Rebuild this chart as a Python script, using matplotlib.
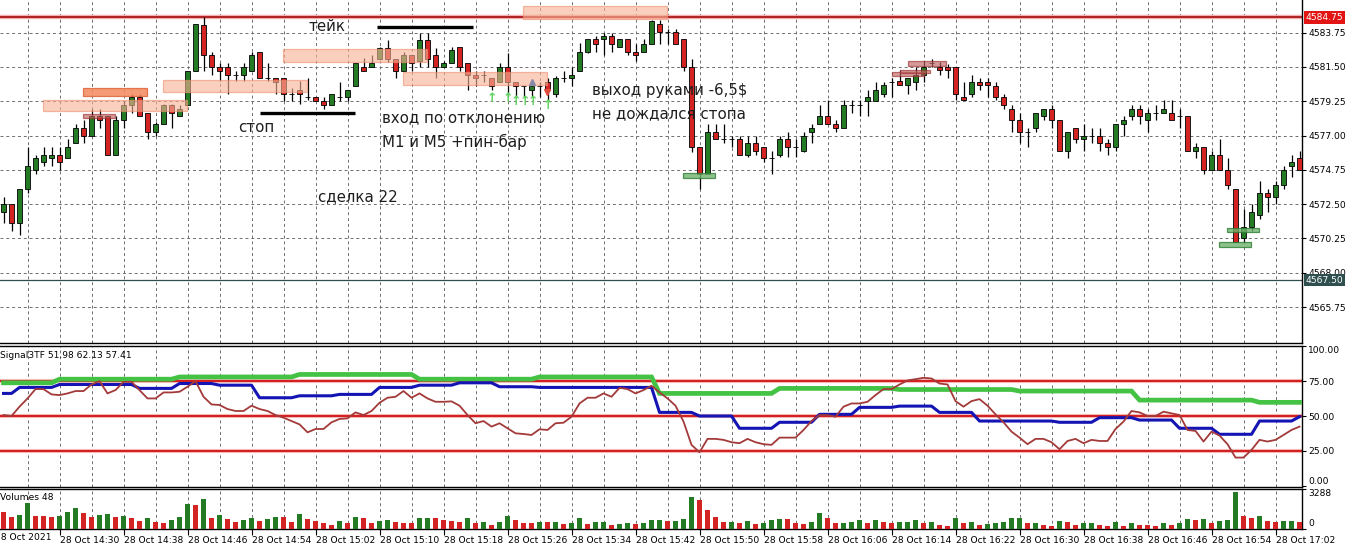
import numpy as np
import matplotlib
matplotlib.use('Agg')
import matplotlib.pyplot as plt
from matplotlib.patches import Rectangle
import matplotlib.transforms as mtrans

plt.rcParams['font.family'] = ['DejaVu Sans']

# ---------------- data (M1 candles, 28 Oct 2021, 14:23 .. 17:05) ----------------
opens = [4572.0,4572.5,4571.25,4573.5,4574.75,4575.25,4575.5,4575.75,4575.5,4576.5,
         4577.5,4577.0,4578.25,4578.25,4575.75,4578.0,4579.0,4579.5,4578.5,4577.25,
         4577.75,4579.0,4578.25,4579.0,4581.25,4584.25,4582.25,4581.5,4581.5,4581.0,
         4581.0,4581.25,4582.5,4580.75,4580.75,4580.75,4579.75,4580.0,4579.5,4579.5,
         4579.25,4579.0,4579.5,4579.5,4580.25,4581.5,4581.5,4582.0,4582.75,4582.0,
         4581.25,4582.25,4581.9,4583.25,4582.25,4581.5,4581.75,4582.8,4581.75,4581.0,
         4581.0,4580.75,4580.5,4581.5,4580.5,4580.25,4580.0,4580.25,4580.5,4579.75,
         4580.75,4580.75,4581.25,4582.5,4583.3,4583.3,4583.55,4582.8,4583.3,4582.5,
         4582.5,4583.0,4584.3,4583.8,4583.8,4583.3,4581.5,4576.25,4574.5,4577.25,
         4576.8,4576.8,4576.8,4575.75,4576.5,4576.25,4575.5,4575.75,4576.8,4576.25,
         4576.0,4577.25,4577.75,4578.3,4577.75,4577.5,4579.0,4579.0,4579.25,4579.25,
         4579.75,4580.5,4580.55,4580.3,4580.5,4581.0,4581.75,4581.5,4581.5,4581.5,
         4579.5,4579.75,4580.5,4580.5,4580.25,4579.5,4578.75,4578.0,4577.2,4577.5,
         4578.3,4578.75,4578.0,4576.0,4577.5,4576.8,4577.0,4577.0,4576.5,4576.25,
         4577.75,4578.3,4578.75,4578.0,4578.5,4578.5,4578.5,4578.3,4578.3,4576.0,
         4576.25,4574.75,4575.75,4574.75,4573.5,4570.3,4571.0,4571.8,4573.25,4573.0,
         4573.75,4575.0,4575.5]
highs = [4573.0,4572.5,4573.5,4576.25,4575.75,4576.25,4576.25,4576.25,4576.75,4577.75,
         4578.0,4578.75,4578.75,4578.25,4578.25,4579.25,4579.75,4579.75,4578.5,4577.9,
         4579.1,4579.1,4579.0,4581.25,4584.3,4584.75,4582.5,4581.75,4581.75,4581.25,
         4581.75,4582.5,4582.5,4581.75,4580.75,4580.75,4580.1,4580.6,4580.8,4579.5,
         4579.5,4579.75,4580.5,4580.0,4581.75,4582.1,4582.25,4582.8,4583.25,4582.0,
         4582.5,4582.25,4583.75,4583.75,4582.75,4581.9,4582.8,4582.8,4581.75,4581.25,
         4581.25,4580.75,4581.75,4582.4,4580.5,4580.25,4580.5,4580.5,4580.75,4580.9,
         4581.25,4581.5,4583.1,4583.3,4583.5,4583.7,4583.7,4583.3,4583.3,4583.0,
         4583.3,4584.55,4584.55,4584.0,4584.0,4583.3,4582.0,4576.25,4577.75,4577.75,
         4577.75,4577.0,4577.0,4577.0,4577.0,4576.25,4576.0,4577.0,4577.25,4576.8,
         4577.25,4577.75,4579.0,4579.3,4578.0,4579.3,4579.3,4579.3,4580.0,4580.5,
         4580.5,4580.8,4581.3,4580.8,4581.5,4581.9,4582.0,4581.8,4581.7,4581.5,
         4580.5,4581.0,4580.75,4580.8,4580.5,4579.75,4579.0,4578.5,4577.5,4578.5,
         4578.75,4579.0,4578.0,4577.2,4577.5,4577.75,4577.5,4577.5,4576.8,4577.75,
         4578.3,4579.0,4579.0,4578.75,4579.0,4579.3,4579.3,4578.75,4578.3,4576.5,
         4576.25,4576.0,4576.75,4575.5,4573.5,4572.2,4572.5,4574.0,4573.5,4574.0,
         4575.0,4575.75,4576.0]
lows = [4571.25,4570.75,4570.5,4573.25,4574.5,4575.0,4575.0,4574.75,4575.5,4576.5,
        4576.5,4577.0,4577.5,4575.75,4575.75,4577.5,4578.5,4578.25,4576.75,4577.0,
        4577.75,4577.5,4578.25,4579.0,4581.25,4581.25,4581.0,4580.6,4579.75,4580.6,
        4580.6,4581.25,4580.75,4580.6,4579.75,4579.25,4579.25,4579.1,4579.3,4579.25,
        4578.75,4579.0,4579.25,4579.25,4580.25,4581.25,4581.5,4582.0,4581.8,4580.75,
        4581.25,4581.25,4581.5,4581.5,4580.75,4581.5,4581.75,4581.25,4580.0,4580.25,
        4580.5,4580.0,4580.5,4579.5,4579.5,4579.5,4579.5,4579.5,4579.3,4579.5,
        4580.5,4580.25,4581.25,4582.4,4582.5,4582.3,4582.5,4582.8,4582.3,4581.9,
        4582.5,4583.0,4583.0,4583.0,4583.0,4581.25,4575.9,4573.5,4574.5,4576.8,
        4576.5,4576.25,4575.75,4575.6,4575.75,4575.25,4574.5,4575.6,4575.6,4575.6,
        4575.9,4576.5,4577.75,4577.75,4577.2,4577.5,4578.5,4578.3,4578.3,4579.25,
        4579.5,4579.5,4580.3,4579.75,4580.0,4580.5,4581.5,4581.0,4580.8,4579.3,
        4579.3,4579.5,4580.0,4579.5,4579.3,4578.75,4577.2,4576.5,4576.25,4577.2,
        4578.0,4577.5,4576.0,4575.5,4576.5,4576.0,4576.5,4576.0,4575.75,4576.0,
        4577.0,4578.0,4577.75,4577.2,4578.0,4578.5,4578.0,4577.5,4576.0,4575.5,
        4574.5,4574.75,4574.75,4573.5,4570.0,4570.0,4570.75,4571.5,4572.0,4572.5,
        4573.5,4574.25,4574.75]
closes = [4572.5,4571.25,4573.5,4575.0,4575.5,4575.75,4575.75,4575.25,4576.25,4577.5,
          4577.0,4578.25,4578.0,4575.75,4578.0,4579.0,4579.5,4578.25,4577.25,4577.75,
          4579.0,4578.5,4578.75,4581.25,4584.3,4582.25,4581.5,4581.25,4581.0,4581.0,
          4581.5,4582.25,4580.75,4580.75,4580.5,4579.75,4579.75,4579.75,4579.5,4579.25,
          4579.0,4579.75,4579.5,4580.0,4581.75,4581.25,4581.75,4582.75,4582.0,4581.25,
          4582.25,4581.75,4583.25,4582.0,4581.5,4581.75,4582.6,4581.5,4581.0,4580.75,
          4581.0,4580.25,4581.5,4580.5,4580.25,4580.25,4580.25,4580.25,4580.0,4580.75,
          4580.75,4581.0,4582.5,4583.3,4583.0,4583.55,4583.0,4583.3,4582.5,4582.3,
          4583.0,4584.5,4583.8,4583.8,4583.0,4581.5,4576.25,4574.5,4577.25,4576.8,
          4576.8,4576.8,4575.75,4576.5,4576.0,4575.5,4575.5,4576.8,4576.25,4576.25,
          4577.0,4577.5,4578.3,4577.75,4577.5,4579.0,4579.0,4579.0,4579.5,4580.0,
          4580.3,4580.5,4580.3,4580.8,4581.0,4581.5,4581.75,4581.3,4581.3,4579.75,
          4579.3,4580.5,4580.3,4580.3,4579.5,4579.0,4578.0,4577.2,4577.2,4578.5,
          4578.75,4578.0,4576.0,4577.2,4576.8,4577.0,4577.0,4576.5,4576.25,4577.75,
          4578.0,4578.75,4578.3,4578.5,4578.5,4578.75,4578.0,4578.3,4576.0,4576.25,
          4574.75,4575.75,4574.75,4573.75,4570.0,4571.0,4572.0,4573.25,4573.0,4573.75,
          4574.75,4575.25,4574.75]
volumes = [1405,983,1124,2108,1040,1010,983,1040,1405,1686,
           1321,983,1124,1208,983,1040,843,646,899,562,
           478,703,983,2051,1967,2473,899,1124,787,562,
           703,899,646,787,983,960,562,1208,787,646,
           478,281,646,478,983,899,478,646,703,562,
           478,460,843,899,843,680,646,562,899,478,
           520,281,562,1068,703,478,460,562,540,560,
           365,478,899,365,562,580,281,365,478,365,
           478,703,720,646,660,787,2670,2389,1546,983,
           562,580,478,618,365,478,703,787,760,478,
           365,562,1265,899,478,490,562,703,478,703,
           562,478,513,530,740,430,570,313,228,855,
           430,513,313,340,430,513,855,880,430,450,
           313,228,600,570,313,430,445,313,228,513,
           228,430,313,300,228,430,313,430,800,710,
           800,430,600,710,3080,1030,855,1030,600,513,
           600,610,513]
# Signal3TF lines
signal_line = [50.7,50.0,56.7,62.6,69.3,69.3,65.5,65.0,66.2,67.9,
               67.9,72.6,75.0,66.2,68.6,74.5,74.5,68.6,62.6,62.6,
               66.9,66.9,67.4,71.0,75.0,63.8,58.3,57.9,55.0,53.6,
               53.6,57.4,55.0,53.6,50.7,48.8,46.4,44.0,38.3,40.7,
               40.7,45.5,47.9,48.3,52.6,50.7,53.6,59.5,63.1,63.8,
               67.9,63.1,66.2,62.6,60.2,60.2,60.5,57.4,50.7,44.8,
               46.4,42.4,44.8,41.2,37.6,37.1,36.4,40.5,40.0,44.8,
               45.2,49.5,59.0,63.1,63.1,66.2,63.8,70.2,69.3,66.2,
               68.6,71.7,66.9,62.6,57.4,46.0,29.3,24.0,33.6,33.6,
               32.9,31.2,30.5,33.6,31.2,29.8,29.3,34.5,34.5,34.5,
               40.0,46.4,50.7,50.7,49.5,56.7,59.0,59.0,60.2,65.0,
               69.3,69.3,72.6,75.5,76.4,77.4,76.9,73.3,72.6,60.7,
               56.7,60.7,62.1,57.4,51.2,45.5,38.8,34.5,29.8,33.6,
               33.6,31.2,26.2,32.1,33.6,30.5,32.9,32.1,32.1,40.7,
               46.0,53.6,52.6,50.0,50.0,53.1,51.9,50.7,40.0,39.3,
               31.7,38.8,36.0,29.8,20.2,20.2,25.7,32.9,31.7,32.9,
               36.4,40.0,42.4]
blue_values = [66.2,70.5,72.6,69.8,73.3,72.1,63.1,64.5,65.5,70.5,72.1,73.8,71.0,70.5,
               52.6,50.0,41.2,45.5,51.2,56.2,57.1,52.6,46.4,45.5,48.8,47.1,41.2,36.9,46.4,49.5]
blue_counts = [2,5,10,5,5,5,5,5,5,5,5,5,5,15,5,5,5,5,5,5,5,5,10,5,5,5,5,5,5,1]
green_values = [73.8,76.4,78.0,79.8,76.4,78.0,66.2,69.8,69.0,67.9,61.4,59.8]
green_counts = [7,15,15,15,15,15,15,15,15,15,15,6]

time_labels = ['28 Oct 14:30','28 Oct 14:38','28 Oct 14:46','28 Oct 14:54','28 Oct 15:02',
               '28 Oct 15:10','28 Oct 15:18','28 Oct 15:26','28 Oct 15:34','28 Oct 15:42',
               '28 Oct 15:50','28 Oct 15:58','28 Oct 16:06','28 Oct 16:14','28 Oct 16:22',
               '28 Oct 16:30','28 Oct 16:38','28 Oct 16:46','28 Oct 16:54','28 Oct 17:02']
price_ticks = [4565.75,4568.00,4570.25,4572.50,4574.75,4577.00,4579.25,4581.50,4583.75]

# annotation boxes: (bar_start, bar_end, price_low, price_high)
salmon_boxes = [(4.9,22.9,4578.59,4579.31),(19.9,37.9,4579.84,4580.63),
                (34.9,52.9,4581.81,4582.66),(49.9,67.9,4580.30,4581.15),
                (64.9,82.9,4584.64,4585.49)]
orange_boxes = [(9.9,17.9,4579.57,4580.10)]
darkred_boxes = [(9.9,13.9,4578.13,4578.39),(111.0,115.0,4580.89,4581.17),
                 (112.0,115.8,4581.07,4581.33),(113.0,117.8,4581.57,4581.87)]
green_boxes = [(84.9,88.9,4574.24,4574.51),(152.9,156.9,4570.68,4570.95),
               (151.9,155.9,4569.70,4570.03)]
take_line = (46.7, 58.7, 4584.1)
stop_line = (32.1, 43.9, 4578.5)
arrow_pts = [(61.0,4579.45),(63.1,4579.45),(64.1,4579.25),(65.2,4579.25),(66.2,4579.25),(68.0,4578.95)]
level_red = 4584.75
level_dark = 4567.50
notes = [(38.1,4584.18,'тейк'),(29.3,4577.53,'стоп'),(47.3,4578.19,'вход по отклонению'),
         (47.3,4576.55,'M1 и M5 +пин-бар'),(39.3,4572.99,'сделка 22'),
         (73.6,4579.97,'выход руками -6,5$'),(73.6,4578.45,'не дождался стопа')]

# ---------------- figure ----------------
W, H = 1359, 558
fig = plt.figure(figsize=(W/100, H/100), dpi=100)
fig.patch.set_facecolor('white')
RIGHT = 1302

def rect(top, bottom):
    return [0, 1 - bottom/H, RIGHT/W, (bottom - top)/H]

ax1 = fig.add_axes(rect(0, 343))
ax2 = fig.add_axes(rect(346, 487))
ax3 = fig.add_axes(rect(489, 528.5))

n = len(opens)
x = np.arange(n)
xlim = (-0.44, 162.31)
o = np.array(opens); c = np.array(closes); h = np.array(highs); l = np.array(lows)
grid_kw = dict(color='#6e6e6e', lw=0.7, ls=(0, (3, 3)), zorder=0)
grid_x = np.arange(3, n, 4)

for ax in (ax1, ax2, ax3):
    ax.set_xlim(*xlim)
    ax.set_facecolor('white')
    for gx in grid_x:
        ax.axvline(gx, **grid_kw)
    ax.spines['left'].set_visible(False)
    for s in ('top', 'bottom', 'right'):
        ax.spines[s].set_color('black')
        ax.spines[s].set_linewidth(1.0)
    ax.yaxis.tick_right()
    ax.tick_params(axis='y', direction='out', length=3, labelsize=6.6, pad=1.5, colors='black')
ax1.spines['top'].set_visible(False)

# ---- main price panel ----
ax1.set_ylim(4563.39, 4585.89)
for p in price_ticks:
    ax1.axhline(p, **grid_kw)
ax1.set_yticks(price_ticks)
ax1.set_yticklabels(['%.2f' % p for p in price_ticks])
ax1.set_xticks([])

body_col = np.where(c > o, '#237b23', np.where(c < o, '#d42323', '#000000'))
ax1.vlines(x, l, h, color='black', lw=0.9, zorder=2)
ax1.bar(x, np.abs(c - o), bottom=np.minimum(o, c), width=0.62, color=body_col,
        edgecolor='black', linewidth=0.6, zorder=3)

ax1.axhline(level_red, color='#f3b0b0', lw=3.2, zorder=1.5)
ax1.axhline(level_red, color='#b22222', lw=1.4, zorder=1.6)
ax1.axhline(level_dark, color='#2f4f4f', lw=0.9, zorder=1.6)

for (a, b, lo, hi) in salmon_boxes:
    ax1.add_patch(Rectangle((a, lo), b - a, hi - lo, facecolor='#f7b296', alpha=0.62,
                            edgecolor='#ef9070', lw=0.9, zorder=4))
for (a, b, lo, hi) in orange_boxes:
    ax1.add_patch(Rectangle((a, lo), b - a, hi - lo, facecolor='#f38a5e', alpha=0.85,
                            edgecolor='#e0643a', lw=0.9, zorder=4))
for (a, b, lo, hi) in darkred_boxes:
    ax1.add_patch(Rectangle((a, lo), b - a, hi - lo, facecolor='#c06464', alpha=0.65,
                            edgecolor='#9c2e2e', lw=0.9, zorder=4))
for (a, b, lo, hi) in green_boxes:
    ax1.add_patch(Rectangle((a, lo), b - a, hi - lo, facecolor='#6fb56f', alpha=0.8,
                            edgecolor='#2e7d32', lw=0.9, zorder=4))

ax1.plot([take_line[0], take_line[1]], [take_line[2]] * 2, color='black', lw=2.4, zorder=5,
         solid_capstyle='butt')
ax1.plot([stop_line[0], stop_line[1]], [stop_line[2]] * 2, color='black', lw=2.4, zorder=5,
         solid_capstyle='butt')

for (ax_, ay_) in arrow_pts:
    ax1.text(ax_, ay_, '↑', color='#5fd35f', fontsize=9, ha='center', va='center',
             fontweight='bold', zorder=6)
ax1.plot([66.0], [4580.51], marker='^', color='#8a8aa8', ms=4.5, zorder=6)
ax1.plot([67.9], [4579.86], marker='v', color='#e04b3a', ms=4.5, zorder=6)

for (tx, ty, s) in notes:
    ax1.text(tx, ty, s, fontsize=10.8, color='#1e1e1e', ha='left', va='center', zorder=7)

tr1 = mtrans.blended_transform_factory(ax1.transAxes, ax1.transData)
ax1.text(1.003, level_red, '%.2f' % level_red, transform=tr1, fontsize=6.6, color='white',
         va='center', ha='left', clip_on=False, zorder=8,
         bbox=dict(facecolor='#e31414', edgecolor='none', pad=1.2))
ax1.text(1.003, level_dark, '%.2f' % level_dark, transform=tr1, fontsize=6.6, color='white',
         va='center', ha='left', clip_on=False, zorder=8,
         bbox=dict(facecolor='#2f4f4f', edgecolor='none', pad=1.2))

# ---- indicator panel ----
ax2.set_ylim(-0.9, 100.2)
ind_ticks = [0, 25, 50, 75, 100]
ax2.set_yticks(ind_ticks)
ax2.set_yticklabels(['%.2f' % v for v in ind_ticks])
ax2.set_xticks([])
ind_labels = ax2.get_yticklabels()
ind_labels[0].set_va('bottom')
ind_labels[-1].set_va('top')
for lv in (75, 50, 25):
    ax2.axhline(lv, color='#f6c0c0', lw=3.0, zorder=1)
    ax2.axhline(lv, color='#d42020', lw=1.5, zorder=1.2)
green_line = np.repeat(green_values, green_counts)
blue_line = np.repeat(blue_values, blue_counts)
ax2.plot(x, green_line, color='#44c244', lw=3.4, zorder=3, solid_joinstyle='miter')
ax2.plot(x, blue_line, color='#1414b4', lw=2.2, zorder=4)
ax2.plot(x, signal_line, color='#a33a3a', lw=1.3, zorder=5)
ax2.text(0.0, 1 - 9/141, 'Signal3TF 51.98 62.13 57.41', transform=ax2.transAxes,
         fontsize=6.6, va='center', ha='left', color='black')

# ---- volume panel ----
v = np.array(volumes)
vcol = ['#d42323'] + ['#237b23' if v[i] > v[i-1] else '#d42323' for i in range(1, n)]
ax3.bar(x, v, width=0.55, color=vcol, zorder=3)
ax3.set_ylim(0, 3320)
ax3.set_yticks([0, 3288])
ax3.set_yticklabels(['0', '3288'])
vol_labels = ax3.get_yticklabels()
vol_labels[0].set_va('bottom')
vol_labels[1].set_va('top')
ax3.text(0.0, 1 - 8/39.5, 'Volumes 48', transform=ax3.transAxes, fontsize=6.6,
         va='center', ha='left', color='black', zorder=6)

label_pos = np.arange(7, n, 8)[:len(time_labels)]
ax3.set_xticks(label_pos)
ax3.set_xticklabels(time_labels)
ax3.tick_params(axis='x', direction='out', length=4, labelsize=6.6, pad=1.5)
for lab in ax3.get_xticklabels():
    lab.set_ha('left')
tr3 = mtrans.blended_transform_factory(ax3.transData, ax3.transAxes)
ax3.text(-1.1, -0.12, '28 Oct 2021', transform=tr3, fontsize=6.6, ha='left', va='top',
         clip_on=False)

fig.savefig('out.png', dpi=100, facecolor='white')
